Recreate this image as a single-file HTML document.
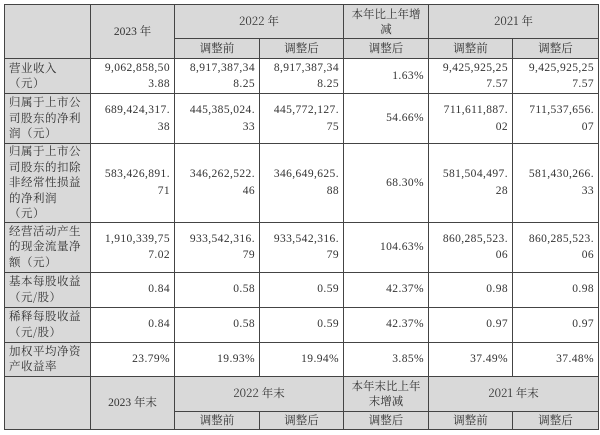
<!DOCTYPE html>
<html><head><meta charset="utf-8"><style>
html,body{margin:0;padding:0;background:#fff;width:600px;height:435px;overflow:hidden}
table{position:absolute;left:4px;top:4px;border-collapse:collapse;table-layout:fixed;font-family:"Liberation Serif","Noto Serif CJK SC",serif;font-size:11.5px;color:#333;line-height:16.5px;letter-spacing:0.4px}
td{border:1px solid #444;padding:0 4px;vertical-align:middle;text-align:right;overflow:hidden;white-space:nowrap}
td.g{background:#d9d9d9;text-align:center;letter-spacing:0}
td.l{background:#d9d9d9;text-align:left;white-space:normal;font-family:"Noto Serif CJK SC",serif;font-size:11.5px;letter-spacing:0.5px;line-height:15.5px}
.c{font-family:"Noto Serif CJK SC","Liberation Serif",serif}
</style></head><body>
<table>
<colgroup><col style="width:86px"><col style="width:84px"><col style="width:85px"><col style="width:84px"><col style="width:85px"><col style="width:84px"><col style="width:86px"></colgroup>
<tr style="height:34px"><td class="g" rowspan="2"></td><td class="g" rowspan="2">2023 <span class="c">年</span></td><td class="g c" colspan="2">2022 年</td><td class="g c" style="white-space:normal;line-height:15px">本年比上年增减</td><td class="g c" colspan="2">2021 年</td></tr>
<tr style="height:20px"><td class="g c">调整前</td><td class="g c">调整后</td><td class="g c">调整后</td><td class="g c">调整前</td><td class="g c">调整后</td></tr>
<tr style="height:35px"><td class="l">营业收入<br>（元）</td><td>9,062,858,50<br>3.88</td><td>8,917,387,34<br>8.25</td><td>8,917,387,34<br>8.25</td><td>1.63%</td><td>9,425,925,25<br>7.57</td><td>9,425,925,25<br>7.57</td></tr>
<tr style="height:50px"><td class="l">归属于上市公司股东的净利润（元）</td><td>689,424,317.<br>38</td><td>445,385,024.<br>33</td><td>445,772,127.<br>75</td><td>54.66%</td><td>711,611,887.<br>02</td><td>711,537,656.<br>07</td></tr>
<tr style="height:78px"><td class="l">归属于上市公司股东的扣除非经常性损益的净利润（元）</td><td>583,426,891.<br>71</td><td>346,262,522.<br>46</td><td>346,649,625.<br>88</td><td>68.30%</td><td>581,504,497.<br>28</td><td>581,430,266.<br>33</td></tr>
<tr style="height:50px"><td class="l">经营活动产生的现金流量净额（元）</td><td>1,910,339,75<br>7.02</td><td>933,542,316.<br>79</td><td>933,542,316.<br>79</td><td>104.63%</td><td>860,285,523.<br>06</td><td>860,285,523.<br>06</td></tr>
<tr style="height:35px"><td class="l">基本每股收益（元/股）</td><td>0.84</td><td>0.58</td><td>0.59</td><td>42.37%</td><td>0.98</td><td>0.98</td></tr>
<tr style="height:35px"><td class="l">稀释每股收益（元/股）</td><td>0.84</td><td>0.58</td><td>0.59</td><td>42.37%</td><td>0.97</td><td>0.97</td></tr>
<tr style="height:34px"><td class="l">加权平均净资产收益率</td><td>23.79%</td><td>19.93%</td><td>19.94%</td><td>3.85%</td><td>37.49%</td><td>37.48%</td></tr>
<tr style="height:35px"><td class="g" rowspan="2"></td><td class="g" rowspan="2">2023 <span class="c">年末</span></td><td class="g c" colspan="2">2022 年末</td><td class="g c" style="white-space:normal;line-height:15px">本年末比上年末增减</td><td class="g c" colspan="2">2021 年末</td></tr>
<tr style="height:18px"><td class="g c">调整前</td><td class="g c">调整后</td><td class="g c">调整后</td><td class="g c">调整前</td><td class="g c">调整后</td></tr>
</table>
</body></html>
